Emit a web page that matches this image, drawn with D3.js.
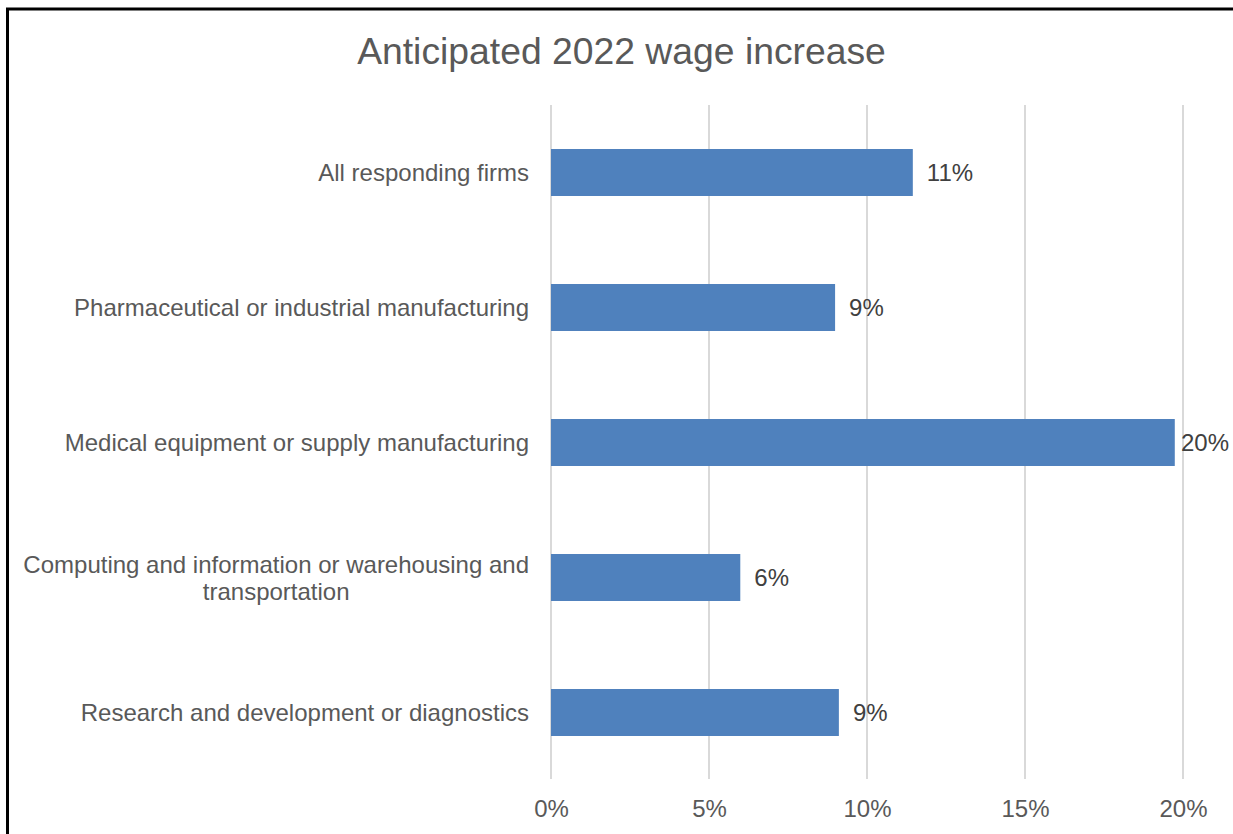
<!DOCTYPE html>
<html>
<head>
<meta charset="utf-8">
<script src="https://cdn.jsdelivr.net/npm/d3@7"></script>
<style>
  html, body { margin: 0; padding: 0; background: #fff; }
  svg { display: block; }
  text { font-family: "Liberation Sans", Arial, sans-serif; }
</style>
</head>
<body>
<svg id="chart" width="1233" height="834"></svg>
<script>
// Survey categories (top to bottom) and anticipated wage increase, in percent
const categories = [
  "All responding firms",
  "Pharmaceutical or industrial manufacturing",
  "Medical equipment or supply manufacturing",
  "Computing and information or warehousing and transportation",
  "Research and development or diagnostics"
];
const wageIncrease = [11.45, 8.99, 19.74, 5.99, 9.11];
const tickValues = [0, 5, 10, 15, 20];
const chartTitle = "Anticipated 2022 wage increase";

// Category labels that wrap onto two lines
const labelLines = {
  "Computing and information or warehousing and transportation":
    ["Computing and information or warehousing and", "transportation"]
};

const W = 1233, H = 834;
const FS = 24;
const svg = d3.select("#chart");

// Chart frame (runs past the right and bottom edges)
svg.append("rect")
  .attr("x", 7.5).attr("y", 9)
  .attr("width", W + 20).attr("height", H + 20)
  .attr("fill", "#fff")
  .attr("stroke", "#000")
  .attr("stroke-width", 3);

// Title
svg.append("text")
  .attr("x", 621.5).attr("y", 64)
  .attr("text-anchor", "middle")
  .attr("fill", "#595959")
  .attr("font-size", 37.3)
  .text(chartTitle);

const plot = { left: 551, right: 1183, top: 105, bottom: 780 };

const x = d3.scaleLinear()
  .domain([0, 20])
  .range([plot.left, plot.right]);

const y = d3.scaleBand()
  .domain(categories)
  .range([plot.top, plot.bottom])
  .paddingInner(0.652)
  .paddingOuter(0.326);

const data = categories.map((c, i) => ({ category: c, value: wageIncrease[i] }));

// Vertical gridlines
svg.append("g")
  .selectAll("line")
  .data(tickValues)
  .join("line")
  .attr("x1", d => x(d)).attr("x2", d => x(d))
  .attr("y1", plot.top).attr("y2", plot.bottom - 1)
  .attr("stroke", "#d9d9d9")
  .attr("stroke-width", 2);

// Bottom axis tick labels
const xAxis = d3.axisBottom(x)
  .tickValues(tickValues)
  .tickFormat(d => d + "%")
  .tickSize(0)
  .tickPadding(0);

const gx = svg.append("g")
  .attr("transform", `translate(0, ${plot.bottom})`)
  .call(xAxis);
gx.select(".domain").remove();
gx.selectAll("text")
  .attr("y", 36.5)
  .attr("dy", 0)
  .attr("fill", "#595959")
  .attr("font-size", FS)
  .attr("font-family", "Liberation Sans, Arial, sans-serif");

// Bars
svg.append("g")
  .selectAll("rect")
  .data(data)
  .join("rect")
  .attr("x", x(0))
  .attr("y", d => y(d.category))
  .attr("width", d => x(d.value) - x(0))
  .attr("height", y.bandwidth())
  .attr("fill", "#4f81bd");

// Category labels
const catG = svg.append("g");
data.forEach(d => {
  const lines = labelLines[d.category] || [d.category];
  const cy = y(d.category) + y.bandwidth() / 2;
  const lineH = 27;
  const t = catG.append("text")
    .attr("fill", "#595959")
    .attr("font-size", FS)
    .attr("text-anchor", lines.length > 1 ? "middle" : "end");
  if (lines.length === 1) {
    t.attr("x", 529).attr("y", cy + 8.5).text(lines[0]);
  } else {
    const top = cy - (lines.length - 1) * lineH / 2 + 8.5;
    t.append("tspan").attr("x", 529).attr("y", top).text(lines[0]);
    const w0 = t.select("tspan").node().getComputedTextLength();
    const mid = 529 - w0 / 2;
    t.selectAll("tspan").attr("x", mid);
    lines.slice(1).forEach((ln, k) => {
      t.append("tspan").attr("x", mid).attr("y", top + (k + 1) * lineH).text(ln);
    });
  }
});

// Value labels, kept inside the chart area
const fmt = d => Math.round(d) + "%";
svg.append("g")
  .selectAll("text")
  .data(data)
  .join("text")
  .attr("y", d => y(d.category) + y.bandwidth() / 2 + 8.5)
  .attr("fill", "#404040")
  .attr("font-size", FS)
  .text(d => fmt(d.value))
  .each(function(d) {
    const w = this.getComputedTextLength();
    const px = Math.min(x(d.value) + 14, 1229 - w);
    d3.select(this).attr("x", px);
  });
</script>
</body>
</html>
